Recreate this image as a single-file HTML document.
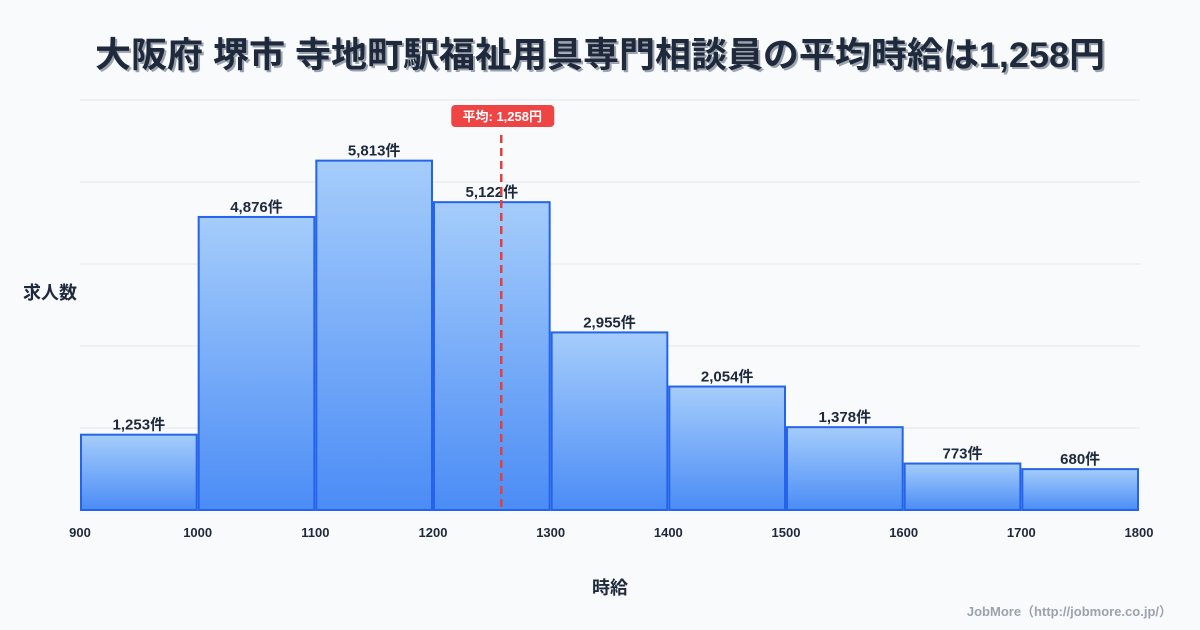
<!DOCTYPE html>
<html><head><meta charset="utf-8"><style>
body{margin:0;background:#f8fafc;font-family:"Liberation Sans","Noto Sans CJK JP",sans-serif;}
</style></head><body>
<svg id="c" width="1200" height="630" xmlns="http://www.w3.org/2000/svg" style="display:block">
<defs><linearGradient id="g" x1="0" y1="0" x2="0" y2="1"><stop offset="0" stop-color="#a5cdfb"/><stop offset="1" stop-color="#4b8cf5"/></linearGradient></defs>
<rect width="1200" height="630" fill="#f8fafc"/>
<text x="602" y="69" text-anchor="middle" font-size="35" font-weight="bold" fill="#9ca3af" textLength="1010" lengthAdjust="spacingAndGlyphs">大阪府 堺市 寺地町駅福祉用具専門相談員の平均時給は1,258円</text>
<text x="600" y="67" text-anchor="middle" font-size="35" font-weight="bold" fill="#1e293b" textLength="1010" lengthAdjust="spacingAndGlyphs">大阪府 堺市 寺地町駅福祉用具専門相談員の平均時給は1,258円</text>
<g id="grid"></g><g id="bars"></g><g id="xt"></g>
<text x="50" y="299" text-anchor="middle" font-size="18" font-weight="bold" fill="#1e293b">求人数</text>
<text x="610" y="594" text-anchor="middle" font-size="18" font-weight="bold" fill="#1e293b">時給</text>
<text x="1172" y="616" text-anchor="end" font-size="13" font-weight="bold" fill="#9ca3af">JobMore（http://jobmore.co.jp/）</text>
<g id="mean"></g>
</svg>
<script>
const binStarts=[900,1000,1100,1200,1300,1400,1500,1600,1700];
const counts=[1253,4876,5813,5122,2955,2054,1378,773,680];
const xTicks=[900,1000,1100,1200,1300,1400,1500,1600,1700,1800];
const meanValue=1258;
const ns="http://www.w3.org/2000/svg";
const X0=80,X1=1139,Y0=510,YT=100,xmin=900,xmax=1800,ymax=6822;
const x=v=>X0+(v-xmin)/(xmax-xmin)*(X1-X0);
const y=v=>Y0-v/ymax*(Y0-YT);
function mk(t,a,p){const e=document.createElementNS(ns,t);for(const k in a)e.setAttribute(k,a[k]);p.appendChild(e);return e;}
const grid=document.getElementById('grid');
for(let i=0;i<=5;i++){const gy=YT+i*(Y0-YT)/5;const l=mk('line',{x1:X0,x2:1140,y1:gy,y2:gy,stroke:'#e5e7eb','stroke-width':1},grid);

}
const bars=document.getElementById('bars');
binStarts.forEach((b,i)=>{const xa=x(b)+1,xb=x(b+100)-1;const r=mk('rect',{x:xa,y:y(counts[i]),width:xb-xa,height:Y0-y(counts[i]),fill:'url(#g)',stroke:'#2563eb','stroke-width':2},bars);


const t=mk('text',{x:(xa+xb)/2,y:y(counts[i])-5,'text-anchor':'middle','font-size':15,'font-weight':'bold',fill:'#1e293b'},bars);


t.textContent=counts[i].toLocaleString('en-US')+'件';});
const xt=document.getElementById('xt');
xTicks.forEach(v=>{const t=mk('text',{x:x(v),y:537,'text-anchor':'middle','font-size':13,'font-weight':'bold',fill:'#1e293b'},xt);


t.textContent=v;});
const m=document.getElementById('mean');const mx=x(meanValue);
const ml=mk('line',{x1:mx,x2:mx,y1:135,y2:510,stroke:'#e53e3e','stroke-width':2.5,'stroke-dasharray':'8,5'},m);


const mb=mk('rect',{x:mx-50,y:105,width:103,height:22,rx:4,fill:'#ef4444'},m);


const mt=mk('text',{x:mx+1,y:121,'text-anchor':'middle','font-size':13,'font-weight':'bold',fill:'#fff'},m);


mt.textContent='平均: '+meanValue.toLocaleString('en-US')+'円';
</script>
</body></html>
